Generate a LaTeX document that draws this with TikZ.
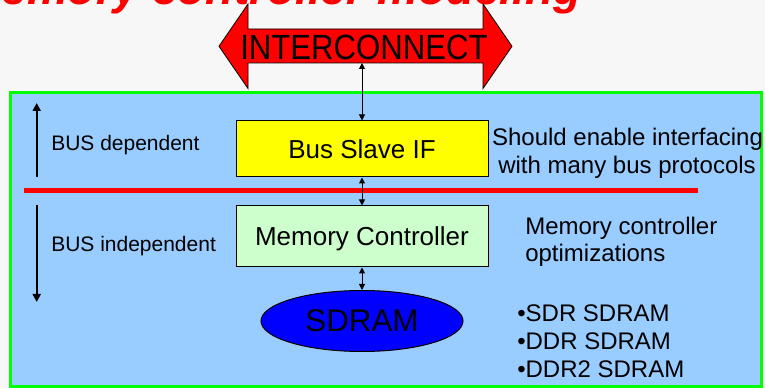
\documentclass[tikz,border=0pt]{standalone}
\usepackage{fontspec}
\setmainfont{Liberation Sans}
\usetikzlibrary{arrows.meta,shapes.geometric}

\definecolor{pagebg}{HTML}{F7F7F7}
\definecolor{panelblue}{HTML}{99CCFF}
\definecolor{panelgreen}{HTML}{00FF00}
\definecolor{slaveyellow}{HTML}{FFFF00}
\definecolor{ctrlgreen}{HTML}{CCFFCC}
\definecolor{sdramblue}{HTML}{0000FF}
\definecolor{busred}{HTML}{FF0000}

\begin{document}
\begin{tikzpicture}[
  x=0.75pt, y=-0.75pt,
  blockbox/.style={draw=black, line width=0.75pt, minimum width=189pt,
    inner sep=0pt, text depth=0pt, font=\fontsize{19.5pt}{23pt}\selectfont},
  sidetext/.style={anchor=base west, inner sep=0pt,
    font=\fontsize{15.75pt}{19pt}\selectfont},
  remark/.style={inner sep=0pt, font=\fontsize{18pt}{21pt}\selectfont},
  link/.style={line width=0.75pt,
    {Triangle[length=4.5pt,width=4.5pt]}-{Triangle[length=4.5pt,width=4.5pt]}},
  span/.style={line width=1.7pt, -{Triangle[length=6pt,width=6pt]}}
]
\useasboundingbox (0,0) rectangle (765,388);
\fill[pagebg] (0,0) rectangle (765,388);

% slide title, partly outside the page
\begin{scope}
  \clip (0,0) rectangle (765,388);
  \node[anchor=base east, inner sep=0pt, text=busred,
        font=\fontsize{34.5pt}{40pt}\selectfont\bfseries\itshape]
        (title) at (582,5) {Memory controller modeling};
\end{scope}

% controller panel
\draw[draw=panelgreen, line width=2.25pt, fill=panelblue]
  (10.5,92.5) rectangle (761.5,387);

% interconnect double arrow
\draw[fill=busred, draw=black, line width=0.6pt]
  (219,46.3) -- (248,4) -- (248,29) -- (483,29) -- (483,4) -- (512,46.3)
  -- (483,88.5) -- (483,63) -- (248,63) -- (248,88.5) -- cycle;
\node[inner sep=0pt, font=\fontsize{26.25pt}{30pt}\selectfont]
  (ic) at (364,47.5) {\scalebox{0.89}[1]{INTERCONNECT}};
\coordinate (icb) at (362,63);

% bus boundary
\draw[busred, line width=4.1pt] (24,190.5) -- (698,190.5);

% blocks
\node[blockbox, fill=slaveyellow, minimum height=42pt] (bsif) at (362,149) {Bus Slave IF};
\node[blockbox, fill=ctrlgreen, minimum height=45.75pt] (mc) at (362,236.5) {Memory Controller};
\node[draw=black, ellipse, fill=sdramblue, line width=0.75pt,
      minimum width=151.5pt, minimum height=45.75pt, inner sep=0pt,
      font=\fontsize{23.5pt}{28pt}\selectfont] (sdram) at (362,321) {SDRAM};

% links between blocks
\draw[link] (icb) -- (bsif.north);
\draw[link] (bsif.south) -- (mc.north);
\draw[link] (mc.south) -- (sdram.north);

% left side ranges
\coordinate (depbot) at (36.7,177);
\coordinate (deptop) at (36.7,103);
\coordinate (indtop) at (36.7,205);
\coordinate (indbot) at (36.7,302);
\draw[span] (depbot) -- (deptop);
\draw[span] (indtop) -- (indbot);
\node[sidetext] (dep) at (51,151) {BUS dependent};
\node[sidetext] (indep) at (51,251.5) {BUS independent};

% remarks on the right
\node[remark, anchor=base] (sh1) at (627.5,146) {Should enable interfacing};
\node[remark, anchor=base] (sh2) at (627,174) {with many bus protocols};
\node[remark, anchor=base west] (mo1) at (525,234.5) {Memory controller};
\node[remark, anchor=base west] (mo2) at (525,262) {optimizations};
\node[remark, anchor=base west] (sd1) at (517,322) {•SDR SDRAM};
\node[remark, anchor=base west] (sd2) at (517,350) {•DDR SDRAM};
\node[remark, anchor=base west] (sd3) at (517,378) {•DDR2 SDRAM};
\end{tikzpicture}
\end{document}
